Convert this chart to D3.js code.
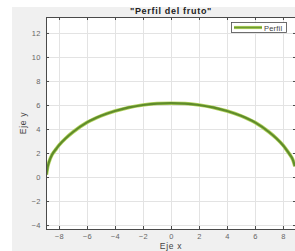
<!DOCTYPE html>
<html>
<head>
<meta charset="utf-8">
<script src="https://cdn.jsdelivr.net/npm/d3@7"></script>
<style>
  body { margin: 0; background: #fff; }
  text { font-family: "Liberation Sans", Arial, sans-serif; }
</style>
</head>
<body>
<svg id="chart" width="295" height="251"></svg>
<script>
// profile
const xValues = [-8.9, -8.8, -8.7, -8.5, -8.2, -8, -7.5, -7, -6, -5, -4, -3, -2, -1, 0, 1, 2, 3, 4, 5, 6, 7, 7.5, 8, 8.2, 8.5, 8.7, 8.85];
const yValues = [0.2, 0.9, 1.3, 1.85, 2.35, 2.65, 3.25, 3.75, 4.55, 5.1, 5.5, 5.8, 6.0, 6.12, 6.15, 6.12, 6.0, 5.8, 5.5, 5.1, 4.55, 3.75, 3.25, 2.65, 2.35, 1.85, 1.45, 0.9];
const xTicks = [-8, -6, -4, -2, 0, 2, 4, 6, 8];
const yTicks = [-4, -2, 0, 2, 4, 6, 8, 10, 12];
const titleText = "\"Perfil del fruto\"";
const seriesName = "Perfil";

const settings = {
  left: 46, right: 296, top: 17, bottom: 229,
  xDomain: [-8.93, 8.93],
  yDomain: [-4.33, 13.33],
  tick: 3,
};

const svg = d3.select("#chart");

// figure background (MATLAB grey)
svg.append("rect")
  .attr("x", 12).attr("y", 7).attr("width", 295 - 12).attr("height", 251 - 7)
  .attr("fill", "#f0f0f0");

const x = d3.scaleLinear().domain(settings.xDomain).range([settings.left, settings.right]);
const y = d3.scaleLinear().domain(settings.yDomain).range([settings.bottom, settings.top]);

svg.append("rect")
  .attr("x", settings.left).attr("y", settings.top)
  .attr("width", settings.right - settings.left)
  .attr("height", settings.bottom - settings.top)
  .attr("fill", "#fff");

// grid
const grid = svg.append("g").attr("stroke", "#e3e3e3").attr("stroke-width", 1);
grid.selectAll(".gx").data(xTicks).join("line")
  .attr("x1", d => Math.round(x(d)) + 0.5).attr("x2", d => Math.round(x(d)) + 0.5)
  .attr("y1", settings.top).attr("y2", settings.bottom);
grid.selectAll(".gy").data(yTicks).join("line")
  .attr("y1", d => Math.round(y(d)) + 0.5).attr("y2", d => Math.round(y(d)) + 0.5)
  .attr("x1", settings.left).attr("x2", settings.right);

// curve
const points = xValues.map((v, i) => [v, yValues[i]]);
const line = d3.line().x(d => x(d[0])).y(d => y(d[1])).curve(d3.curveMonotoneX);

svg.append("defs").append("clipPath").attr("id", "clip")
  .append("rect")
  .attr("x", settings.left).attr("y", settings.top)
  .attr("width", settings.right - settings.left)
  .attr("height", settings.bottom - settings.top);

const plot = svg.append("g").attr("clip-path", "url(#clip)");
plot.append("path").datum(points)
  .attr("d", line).attr("fill", "none")
  .attr("stroke", "#b3d35e").attr("stroke-width", 3.6);
plot.append("path").datum(points)
  .attr("d", line).attr("fill", "none")
  .attr("stroke", "#5f8c2b").attr("stroke-width", 2.2);

// axes
const axisColor = "#4a4a4a";
const styleAxis = g => {
  g.select(".domain").remove();
  g.selectAll(".tick line").attr("stroke", axisColor);
  g.selectAll(".tick text").attr("fill", "#666").attr("font-size", 7.5)
    .attr("letter-spacing", 0.5);
};

svg.append("g")
  .attr("transform", `translate(0,${settings.bottom})`)
  .call(d3.axisBottom(x).tickValues(xTicks).tickSize(-settings.tick).tickPadding(5))
  .call(styleAxis);
svg.append("g")
  .attr("transform", `translate(0,${settings.top})`)
  .call(d3.axisTop(x).tickValues(xTicks).tickSize(-settings.tick).tickFormat(""))
  .call(styleAxis);
svg.append("g")
  .attr("transform", `translate(${settings.left},0)`)
  .call(d3.axisLeft(y).tickValues(yTicks).tickSize(-settings.tick).tickPadding(5))
  .call(styleAxis);
svg.append("g")
  .attr("transform", `translate(${settings.right},0)`)
  .call(d3.axisRight(y).tickValues(yTicks).tickSize(-settings.tick).tickFormat(""))
  .call(styleAxis);

svg.append("rect")
  .attr("x", settings.left + 0.5).attr("y", settings.top + 0.5)
  .attr("width", settings.right - settings.left)
  .attr("height", settings.bottom - settings.top)
  .attr("fill", "none").attr("stroke", axisColor).attr("stroke-width", 1);

// labels
svg.append("text")
  .attr("x", (settings.left + settings.right) / 2).attr("y", 14)
  .attr("text-anchor", "middle").attr("font-size", 9).attr("font-weight", "bold")
  .attr("letter-spacing", 0.7).attr("fill", "#222").text(titleText);

svg.append("text")
  .attr("x", (settings.left + settings.right) / 2).attr("y", 249)
  .attr("text-anchor", "middle").attr("font-size", 8.5).attr("letter-spacing", 0.7)
  .attr("fill", "#444").text("Eje x");

svg.append("text")
  .attr("transform", `translate(26,${(settings.top + settings.bottom) / 2}) rotate(-90)`)
  .attr("text-anchor", "middle").attr("font-size", 8.5).attr("letter-spacing", 0.7)
  .attr("fill", "#444").text("Eje y");

// legend
const legend = svg.append("g").attr("transform", "translate(231,22)");
legend.append("rect")
  .attr("x", 0.5).attr("y", 0.5).attr("width", 55).attr("height", 10)
  .attr("fill", "#fff").attr("stroke", axisColor).attr("stroke-width", 0.8);
legend.append("line")
  .attr("x1", 3).attr("x2", 31).attr("y1", 5.5).attr("y2", 5.5)
  .attr("stroke", "#b3d35e").attr("stroke-width", 3.2);
legend.append("line")
  .attr("x1", 3).attr("x2", 31).attr("y1", 5.5).attr("y2", 5.5)
  .attr("stroke", "#6e9c33").attr("stroke-width", 1.6);
legend.append("text")
  .attr("x", 33).attr("y", 8.5).attr("font-size", 7.5).attr("letter-spacing", 0.2)
  .attr("fill", "#444").text(seriesName);
</script>
</body>
</html>
